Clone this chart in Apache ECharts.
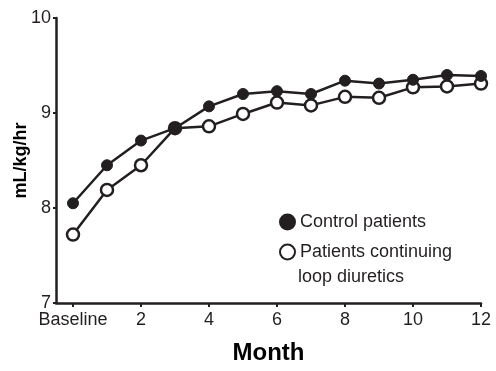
<!DOCTYPE html>
<html>
<head>
<meta charset="utf-8">
<script src="https://cdn.jsdelivr.net/npm/echarts@6/dist/echarts.min.js"></script>
<style>
  html, body { margin: 0; padding: 0; background: #fff; }
  #chart { width: 496px; height: 371px; }
</style>
</head>
<body>
<div id="chart"></div>
<script>
// months 0 (baseline) .. 12
const months = [0, 1, 2, 3, 4, 5, 6, 7, 8, 9, 10, 11, 12];
const controlValues = [8.05, 8.45, 8.71, 8.84, 9.07, 9.20, 9.23, 9.20, 9.34, 9.31, 9.35, 9.40, 9.39];
const loopValues = [7.72, 8.19, 8.45, 8.84, 8.86, 8.99, 9.11, 9.08, 9.17, 9.16, 9.27, 9.28, 9.31];
const xTickValues = [0, 2, 4, 6, 8, 10, 12];

const CONTROL = "Control patients";
const LOOP = "Patients continuing loop diuretics";
const LOOP_LINE1 = "Patients continuing";
const LOOP_LINE2 = "loop diuretics";
const FONT = "Liberation Sans, Arial, sans-serif";
const INK = "#231f20";

const chart = echarts.init(document.getElementById("chart"), null, { renderer: "canvas" });

chart.setOption({
  animation: false,
  grid: { left: 56, right: 15, top: 18, bottom: 68, containLabel: false, outerBoundsMode: "none" },
  legend: {
    data: [
      { name: CONTROL, icon: "circle" },
      { name: LOOP, icon: "circle" },
    ],
    formatter: (name) => (name === LOOP ? LOOP_LINE1 : name),
    orient: "vertical",
    left: 279,
    top: 211,
    padding: 0,
    itemWidth: 15,
    itemHeight: 15,
    itemGap: 8,
    itemTextGap: 4,
    textStyle: { fontFamily: FONT, fontSize: 18, color: INK, lineHeight: 22 },
  },
  graphic: [
    {
      type: "text",
      left: 298,
      top: 268,
      style: { text: LOOP_LINE2, fontFamily: FONT, fontSize: 18, fill: INK },
    },
  ],
  xAxis: {
    type: "value",
    min: -0.5,
    max: 12,
    name: "Month",
    nameLocation: "middle",
    nameGap: 38,
    nameMoveOverlap: false,
    nameTextStyle: { fontFamily: FONT, fontSize: 24, fontWeight: "bold", color: "#000" },
    axisLine: { onZero: false, lineStyle: { color: INK, width: 2.5 } },
    axisTick: { show: true, customValues: xTickValues, length: 4, lineStyle: { color: INK, width: 2 } },
    axisLabel: {
      customValues: xTickValues,
      formatter: (v) => (v === 0 ? "Baseline" : String(v)),
      fontFamily: FONT,
      fontSize: 18,
      color: INK,
      margin: 8,
    },
    splitLine: { show: false },
  },
  yAxis: {
    type: "value",
    min: 7,
    max: 10,
    interval: 1,
    name: "mL/kg/hr",
    nameLocation: "middle",
    nameGap: 26,
    nameRotate: 90,
    nameMoveOverlap: false,
    nameTextStyle: { fontFamily: FONT, fontSize: 18, fontWeight: "bold", color: "#000" },
    axisLine: { show: true, onZero: false, lineStyle: { color: INK, width: 2.5 } },
    axisTick: { show: true, length: 3, lineStyle: { color: INK, width: 2 } },
    axisLabel: { fontFamily: FONT, fontSize: 18, color: INK, margin: 5 },
    splitLine: { show: false },
  },
  series: [
    {
      name: LOOP,
      type: "line",
      data: months.map((m, i) => [m, loopValues[i]]),
      symbol: "circle",
      symbolSize: 12,
      lineStyle: { color: INK, width: 2.5 },
      itemStyle: { color: "#fff", borderColor: INK, borderWidth: 2.5 },
      z: 2,
    },
    {
      name: CONTROL,
      type: "line",
      data: months.map((m, i) => [m, controlValues[i]]),
      symbol: "circle",
      symbolSize: 11,
      lineStyle: { color: INK, width: 2.5 },
      itemStyle: { color: INK, borderColor: INK, borderWidth: 1 },
      z: 3,
    },
  ],
});
</script>
</body>
</html>
